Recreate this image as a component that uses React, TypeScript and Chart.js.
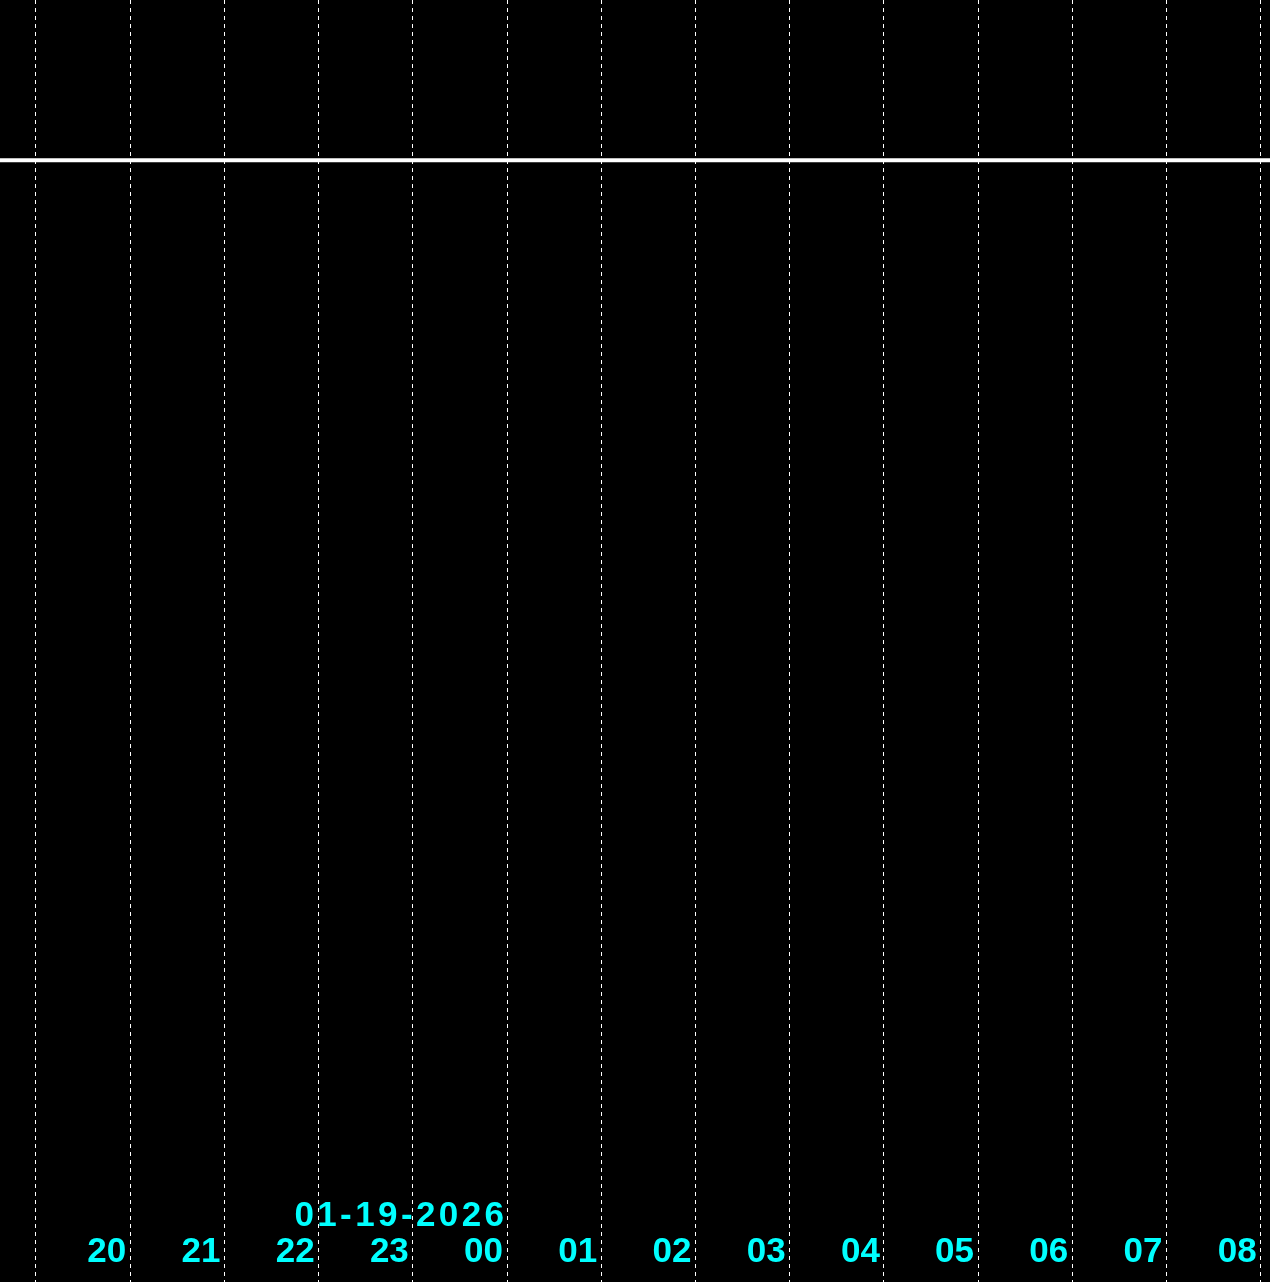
import React, { useEffect, useRef } from "react";
import { Chart, registerables } from "chart.js";

Chart.register(...registerables);

// Data
const seriesHours = [18, 19, 20, 21, 22, 23, 24, 25, 26, 27, 28, 29, 30, 31, 32, 33];
const seriesValues = [87.5, 87.5, 87.5, 87.5, 87.5, 87.5, 87.5, 87.5, 87.5, 87.5, 87.5, 87.5, 87.5, 87.5, 87.5, 87.5];
const tickHours = [19, 20, 21, 22, 23, 24, 25, 26, 27, 28, 29, 30, 31, 32];
const tickLabels = ["", "20", "21", "22", "23", "00", "01", "02", "03", "04", "05", "06", "07", "08"];
const dateLabel = "01-19-2026";
const dateHour = 24;

const X_MIN = 18.618;
const X_MAX = 32.099;

export default function App() {
  const ref = useRef<HTMLCanvasElement | null>(null);

  useEffect(() => {
    document.body.style.margin = "0";
    document.body.style.background = "#000";
    const canvas = ref.current;
    if (!canvas) return;

    const labelPlugin = {
      id: "hourLabels",
      afterDraw(chart: any) {
        const ctx = chart.ctx;
        const xs = chart.scales.x;
        ctx.save();
        ctx.fillStyle = "#00ffff";
        ctx.textAlign = "right";
        ctx.textBaseline = "alphabetic";
        ctx.font = "bold 35px 'Liberation Sans', Arial, sans-serif";
        tickHours.forEach((h, i) => {
          const lbl = tickLabels[i];
          if (!lbl) return;
          const px = xs.getPixelForValue(h);
          ctx.fillText(lbl, px - 4, 1262);
        });
        const dpx = xs.getPixelForValue(dateHour);
        try {
          (ctx as any).letterSpacing = "3.4px";
        } catch (e) {}
        ctx.fillText(dateLabel, dpx - 3 + 3.4, 1226);
        ctx.restore();
      },
    };

    const bgPlugin = {
      id: "bg",
      beforeDraw(chart: any) {
        const ctx = chart.ctx;
        ctx.save();
        ctx.fillStyle = "#000000";
        ctx.fillRect(0, 0, chart.width, chart.height);
        ctx.restore();
      },
    };

    const chart = new Chart(canvas, {
      type: "line",
      data: {
        datasets: [
          {
            data: seriesHours.map((h, i) => ({ x: h, y: seriesValues[i] })),
            borderColor: "#ffffff",
            borderWidth: 4,
            pointRadius: 0,
            fill: false,
            tension: 0,
          },
        ],
      },
      options: {
        animation: false,
        responsive: false,
        maintainAspectRatio: false,
        layout: { padding: 0 },
        plugins: { legend: { display: false }, tooltip: { enabled: false }, title: { display: false } },
        scales: {
          x: {
            type: "linear",
            min: X_MIN,
            max: X_MAX,
            afterBuildTicks: (scale: any) => {
              scale.ticks = tickHours.map((v) => ({ value: v }));
            },
            ticks: { display: false },
            grid: { display: true, color: "#ffffff", lineWidth: 1, drawTicks: false, drawOnChartArea: true },
            border: { display: false, dash: [4, 4] },
          },
          y: {
            type: "linear",
            min: 0,
            max: 100,
            display: false,
          },
        },
      },
      plugins: [bgPlugin, labelPlugin],
    } as any);

    return () => chart.destroy();
  }, []);

  return (
    <canvas
      ref={ref}
      width={1270}
      height={1282}
      style={{ display: "block", position: "absolute", left: 0, top: 0, width: 1270, height: 1282 }}
    />
  );
}
